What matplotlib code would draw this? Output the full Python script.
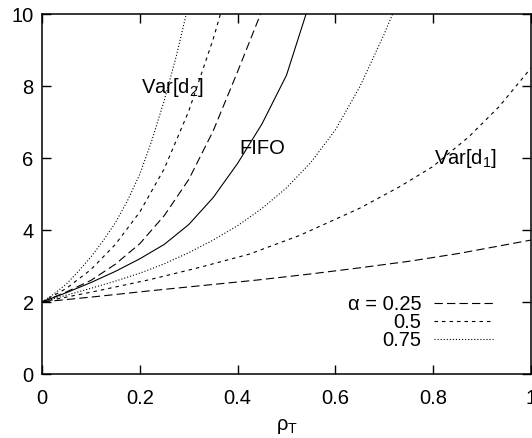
import matplotlib
matplotlib.use('Agg')
import matplotlib.pyplot as plt

plt.rcParams['font.family'] = ['Liberation Sans', 'DejaVu Sans']
plt.rcParams['mathtext.fontset'] = 'custom'
plt.rcParams['mathtext.rm'] = 'Liberation Sans'
plt.rcParams['mathtext.it'] = 'Liberation Sans'
plt.rcParams['mathtext.bf'] = 'Liberation Sans:bold'
plt.rcParams['lines.scale_dashes'] = False

# ---------------- data ----------------
fifo_x = [0, 0.05, 0.10, 0.15, 0.20, 0.25, 0.30, 0.35, 0.40, 0.45, 0.50, 0.54]
fifo_y = [2, 2.26, 2.54, 2.85, 3.20, 3.60, 4.15, 4.90, 5.85, 6.95, 8.30, 10.0]

d2_025_x = [0, 0.05, 0.10, 0.15, 0.20, 0.25, 0.30, 0.35, 0.40, 0.447]
d2_025_y = [2, 2.28, 2.60, 3.05, 3.62, 4.40, 5.40, 6.75, 8.40, 10.0]

d2_05_x = [0, 0.05, 0.10, 0.15, 0.20, 0.25, 0.30, 0.35, 0.365]
d2_05_y = [2, 2.38, 2.90, 3.60, 4.50, 5.70, 7.30, 9.30, 10.0]

d2_075_x = [0, 0.025, 0.05, 0.075, 0.10, 0.125, 0.15, 0.175, 0.20, 0.225, 0.25, 0.275, 0.295]
d2_075_y = [2, 2.23, 2.50, 2.86, 3.25, 3.70, 4.20, 4.82, 5.55, 6.50, 7.60, 8.85, 10.0]

d1_025_x = [0, 0.11, 0.22, 0.33, 0.44, 0.55, 0.65, 0.75, 0.853, 1.0]
d1_025_y = [2, 2.15, 2.31, 2.46, 2.61, 2.78, 2.95, 3.13, 3.35, 3.72]

d1_05_x = [0, 0.11, 0.220, 0.322, 0.424, 0.527, 0.649, 0.731, 0.799, 0.873, 0.935, 1.0]
d1_05_y = [2, 2.30, 2.62, 2.96, 3.33, 3.85, 4.60, 5.20, 5.76, 6.59, 7.43, 8.50]

d1_075_x = [0, 0.05, 0.10, 0.15, 0.20, 0.25, 0.30, 0.35, 0.40, 0.45, 0.50, 0.55, 0.60, 0.65, 0.70, 0.717]
d1_075_y = [2, 2.19, 2.38, 2.58, 2.80, 3.06, 3.37, 3.72, 4.12, 4.60, 5.17, 5.88, 6.78, 7.98, 9.45, 10.0]

alpha_labels = ['\u03b1 = 0.25', '0.5', '0.75']
x_ticks = [0, 0.2, 0.4, 0.6, 0.8, 1.0]
x_tick_labels = ['0', '0.2', '0.4', '0.6', '0.8', '1']
y_ticks = [0, 2, 4, 6, 8, 10]
y_tick_labels = ['0', '2', '4', '6', '8', '10']

# ---------------- styles ----------------
fs = 14.5
lw = 0.8
long_dash = (0, (6.0, 3.0))
short_dash = (0, (2.5, 2.9))
dotted = (0, (0.8, 1.4))

fig = plt.figure(figsize=(5.32, 4.38), dpi=100)
ax = fig.add_axes([42 / 532, 1 - 374 / 438, 489 / 532, 360 / 438])

ax.plot(fifo_x, fifo_y, color='k', lw=lw, ls='-')
ax.plot(d2_025_x, d2_025_y, color='k', lw=lw, ls=long_dash)
ax.plot(d2_05_x, d2_05_y, color='k', lw=lw, ls=short_dash)
ax.plot(d2_075_x, d2_075_y, color='k', lw=lw, ls=dotted)
l1, = ax.plot(d1_025_x, d1_025_y, color='k', lw=lw, ls=long_dash)
l2, = ax.plot(d1_05_x, d1_05_y, color='k', lw=lw, ls=short_dash)
l3, = ax.plot(d1_075_x, d1_075_y, color='k', lw=lw, ls=dotted)

ax.set_xlim(0, 1)
ax.set_ylim(0, 10)
ax.set_xticks(x_ticks)
ax.set_xticklabels(x_tick_labels)
ax.set_yticks(y_ticks)
ax.set_yticklabels(y_tick_labels)
ax.tick_params(axis='both', direction='in', top=True, right=True,
               length=6.5, width=1.0, labelsize=fs)
ax.tick_params(axis='x', pad=11)
ax.tick_params(axis='y', pad=6)
for sp in ax.spines.values():
    sp.set_linewidth(1.1)

ax.set_xlabel(r'$\rho_T$', fontsize=fs, labelpad=6)

ax.text(0.203, 7.80, 'Var[d$_2$]', fontsize=fs, ha='left', va='baseline')
ax.text(0.4027, 6.11, 'FIFO', fontsize=fs, ha='left', va='baseline')
ax.text(0.802, 5.83, 'Var[d$_1$]', fontsize=fs, ha='left', va='baseline')

leg = ax.legend([l1, l2, l3], alpha_labels, loc='center right',
                bbox_to_anchor=(0.923, 0.1436), frameon=False,
                markerfirst=False, handlelength=2.95, handletextpad=0.63,
                labelspacing=-0.05, borderpad=0, borderaxespad=0,
                fontsize=fs)
for col in leg._legend_handle_box.get_children():
    col.align = 'right'

fig.savefig('out.png', dpi=100)
